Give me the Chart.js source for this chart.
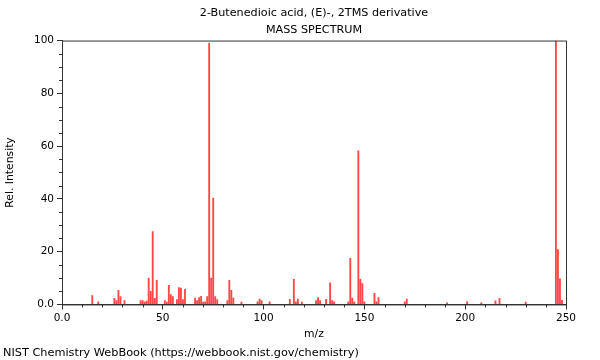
<!DOCTYPE html>
<html>
<head>
<meta charset="utf-8">
<script src="https://cdn.jsdelivr.net/npm/chart.js@4/dist/chart.umd.min.js"></script>
<style>
html,body{margin:0;padding:0;background:#fff;}
#wrap{width:600px;height:360px;position:relative;}
</style>
</head>
<body>
<div id="wrap"><canvas id="c" width="600" height="360"></canvas></div>
<script>
const titleLines = ['2-Butenedioic acid, (E)-, 2TMS derivative', 'MASS SPECTRUM'];
const footerText = 'NIST Chemistry WebBook (https://webbook.nist.gov/chemistry)';
const xAxisTitle = 'm/z';
const yAxisTitle = 'Rel. Intensity';

const mz = [15,18,26,27,28,29,31,39,40,41,42,43,44,45,46,47,51,52,53,54,55,57,58,59,60,61,
  66,67,68,69,70,71,72,73,74,75,76,77,82,83,84,85,89,97,98,99,103,113,115,116,117,119,
  126,127,128,131,133,134,135,142,143,144,145,147,148,149,150,155,156,157,170,171,
  191,201,208,215,217,230,245,246,247,248];
const intensity = [3.4,1,2.3,1.5,5.3,3,1.5,1.5,1.5,1,1.3,10,5,27.6,2.3,9.1,1.5,0.9,7.2,3.7,3,1.8,6.4,6.2,1.8,5.7,
  2.4,1.5,2.6,3.1,0.9,1,3,99,10,40.3,3,1.8,1.5,9.1,5.3,2.4,0.9,1,2,1.5,1,1.9,9.5,1,2,0.9,
  1.5,2.6,1.5,1.9,8.2,1.5,1,1,17.5,2.4,1,58.2,9.5,7.9,1,4.2,1,2.6,1,2,
  0.6,1.1,0.6,1.4,2.3,0.9,100,20.8,9.7,1.6];

const xMajorTicks = [0, 50, 100, 150, 200, 250];
const xTickLabels = ['0.0', '50', '100', '150', '200', '250'];
const yMajorTicks = [0, 20, 40, 60, 80, 100];
const yTickLabels = ['0.0', '20', '40', '60', '80', '100'];

const points = mz.map((m, i) => ({x: m, y: intensity[i]}));
const FONT = 'DejaVu Sans';
const AXIS = '#333';

const framePlugin = {
  id: 'frame',
  afterDraw(chart) {
    const {ctx, chartArea: a} = chart;
    ctx.save();
    ctx.strokeStyle = AXIS;
    ctx.lineWidth = 1;
    ctx.strokeRect(a.left + 0.5, a.top + 0.5, a.right - a.left, a.bottom - a.top);
    const xs = chart.scales.x, ys = chart.scales.y;
    ctx.beginPath();
    xs.ticks.forEach(t => {
      if (xMajorTicks.indexOf(t.value) < 0) {
        const px = Math.round(xs.getPixelForValue(t.value)) + 0.5;
        ctx.moveTo(px, a.bottom); ctx.lineTo(px, a.bottom + 3);
      }
    });
    ys.ticks.forEach(t => {
      if (yMajorTicks.indexOf(t.value) < 0) {
        const py = Math.round(ys.getPixelForValue(t.value)) + 0.5;
        ctx.moveTo(a.left, py); ctx.lineTo(a.left - 3, py);
      }
    });
    ctx.stroke();
    ctx.restore();
  }
};

new Chart(document.getElementById('c'), {
  type: 'bar',
  data: {
    datasets: [{
      data: points,
      backgroundColor: 'rgba(255,0,0,0.72)',
      borderWidth: 0,
      barThickness: 1.2,
      grouped: false
    }]
  },
  options: {
    responsive: false,
    animation: false,
    devicePixelRatio: 1,
    layout: {padding: {left: 3, right: 34, top: 0, bottom: 0}},
    plugins: {
      legend: {display: false},
      tooltip: {enabled: false},
      title: {
        display: true, text: titleLines, fullSize: false, color: '#000',
        font: {family: FONT, size: 11.2, weight: 'normal', lineHeight: 1.52},
        padding: {top: 5, bottom: 1.5}
      },
      subtitle: {
        display: true, text: footerText, position: 'bottom', align: 'start', fullSize: true, color: '#000',
        font: {family: FONT, size: 11.3, weight: 'normal', lineHeight: 1.2},
        padding: {top: 2, bottom: 0}
      }
    },
    scales: {
      x: {
        type: 'linear', min: 0, max: 250, offset: false,
        grid: {
          drawOnChartArea: false, drawTicks: true, tickLength: 5, offset: false,
          tickColor: (c) => (c.tick && xMajorTicks.indexOf(c.tick.value) >= 0) ? AXIS : 'rgba(0,0,0,0)'
        },
        border: {color: AXIS},
        ticks: {
          stepSize: 10, autoSkip: false, maxRotation: 0, padding: 3, color: '#000',
          font: {family: FONT, size: 10.5},
          callback: (v) => { const i = xMajorTicks.indexOf(v); return i >= 0 ? xTickLabels[i] : ''; }
        },
        title: {display: true, text: xAxisTitle, color: '#000', font: {family: FONT, size: 10.8}, padding: {top: 2, bottom: 4}},
        afterFit: (s) => { s.height = 40; }
      },
      y: {
        min: 0, max: 100,
        grid: {
          drawOnChartArea: false, drawTicks: true, tickLength: 5,
          tickColor: (c) => (c.tick && yMajorTicks.indexOf(c.tick.value) >= 0) ? AXIS : 'rgba(0,0,0,0)'
        },
        border: {color: AXIS},
        ticks: {
          stepSize: 5, autoSkip: false, padding: 3, color: '#000',
          font: {family: FONT, size: 10.5},
          callback: (v) => { const i = yMajorTicks.indexOf(v); return i >= 0 ? yTickLabels[i] : ''; }
        },
        title: {display: true, text: yAxisTitle, color: '#000', font: {family: FONT, size: 10.8}, padding: {top: 1, bottom: 4}},
        afterFit: (s) => { s.width = 59; }
      }
    }
  },
  plugins: [framePlugin]
});
</script>
</body>
</html>
